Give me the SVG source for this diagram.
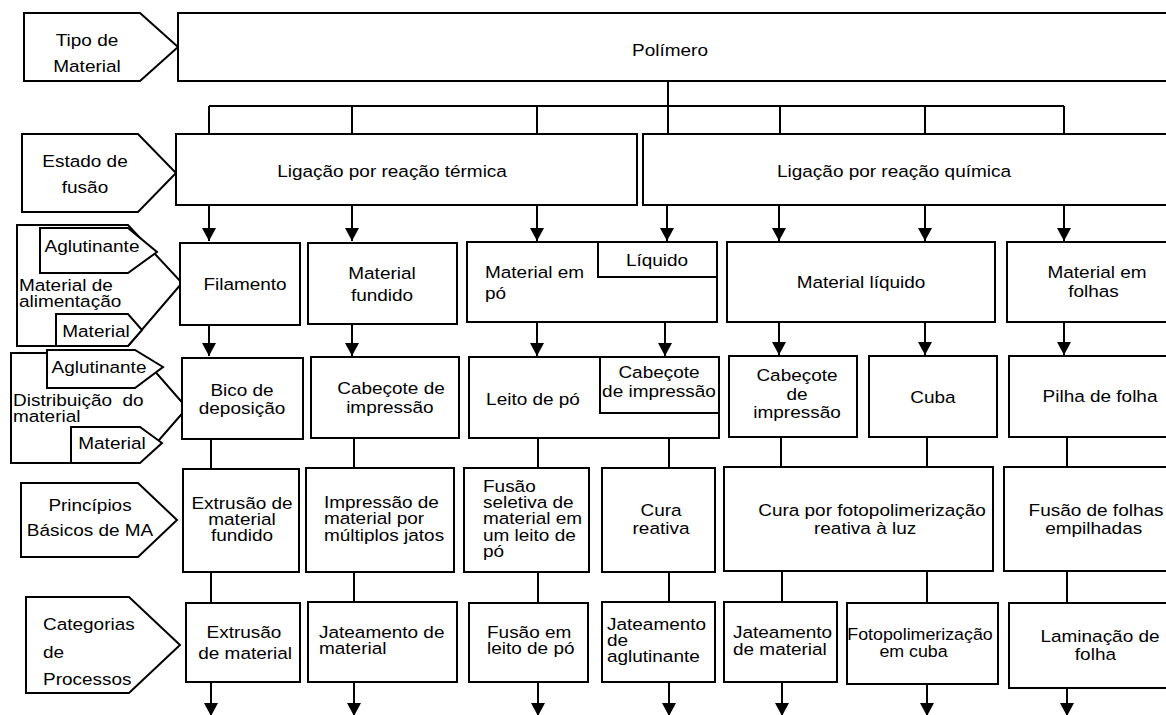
<svg xmlns="http://www.w3.org/2000/svg" width="1166" height="715" viewBox="0 0 1166 715">
<style>
.b{fill:#fff;stroke:#000;stroke-width:2}
.c{fill:none;stroke:#000;stroke-width:2}
.t{font-family:"Liberation Sans",Arial,sans-serif;font-size:16.5px;fill:#000}
.m{text-anchor:middle}
</style>
<defs>
<marker id="ah" markerUnits="userSpaceOnUse" markerWidth="14" markerHeight="14" refX="13" refY="7" orient="auto">
<path d="M0,0 L13,7 L0,14 z" fill="#000"/>
</marker>
</defs>
<rect width="1166" height="715" fill="#fff"/>

<g id="connectors">
<path class="c" d="M668,81 V106 M209,106 H1064 M209,106 V134 M352,106 V134 M537,106 V134 M668,106 V134 M780,106 V134 M925,106 V134 M1064,106 V134"/>
<g marker-end="url(#ah)">
<path class="c" d="M209,205 V241"/><path class="c" d="M352,205 V241"/><path class="c" d="M537,205 V241"/><path class="c" d="M667,205 V241"/><path class="c" d="M779,205 V241"/><path class="c" d="M925,205 V241"/><path class="c" d="M1064,205 V241"/>
<path class="c" d="M209,325 V356"/><path class="c" d="M352,324 V356"/><path class="c" d="M537,322 V356"/><path class="c" d="M665,322 V356"/><path class="c" d="M779,322 V355"/><path class="c" d="M925,322 V355"/><path class="c" d="M1064,322 V355"/>
<path class="c" d="M211,682 V716"/><path class="c" d="M354,682 V716"/><path class="c" d="M538,682 V716"/><path class="c" d="M669,682 V716"/><path class="c" d="M782,682 V716"/><path class="c" d="M927,684 V716"/><path class="c" d="M1067,688 V716"/>
</g>
<path class="c" d="M211,439 V469 M354,438 V468 M538,438 V468 M669,438 V468 M781,437 V467 M927,437 V467 M1067,437 V467"/>
<path class="c" d="M211,572 V603 M354,572 V602 M538,572 V603 M669,572 V602 M782,571 V602 M927,571 V603 M1067,571 V603"/>
</g>

<g id="lbl-tipo">
<polygon class="b" points="24,13 140,13 178,47 140,81 24,81"/>
<text class="t m" transform="matrix(1.15 0 0 1 87 0)"><tspan x="0" y="46">Tipo de</tspan><tspan x="0" y="72">Material</tspan></text>
</g>
<g id="polimero">
<rect class="b" x="178" y="13" width="1000" height="68"/>
<text class="t m" transform="matrix(1.15 0 0 1 670 56)">Polímero</text>
</g>

<g id="lbl-estado">
<polygon class="b" points="22,134 138,134 176,173 138,212 22,212"/>
<text class="t m" transform="matrix(1.15 0 0 1 85 0)"><tspan x="0" y="167">Estado de</tspan><tspan x="0" y="193">fusão</tspan></text>
</g>
<g id="termica">
<rect class="b" x="176" y="134" width="461" height="71"/>
<text class="t m" transform="matrix(1.15 0 0 1 392 177)">Ligação por reação térmica</text>
</g>
<g id="quimica">
<rect class="b" x="643" y="134" width="540" height="71"/>
<text class="t m" transform="matrix(1.15 0 0 1 894 177)">Ligação por reação química</text>
</g>

<g id="lbl-alimentacao">
<polygon class="b" points="17,225 128,225 182,283 128,346 17,346"/>
<polygon class="b" points="40,228 128,228 157,252 128,273 40,273"/>
<polygon class="b" points="56,314 128,314 142,330 128,346 56,346"/>
<text class="t m" transform="matrix(1.15 0 0 1 92 252)">Aglutinante</text>
<text class="t" transform="matrix(1.15 0 0 1 19 0)"><tspan x="0" y="291">Material de</tspan><tspan x="0" y="307">alimentação</tspan></text>
<text class="t m" transform="matrix(1.15 0 0 1 96 337)">Material</text>
</g>
<g id="filamento">
<rect class="b" x="180" y="243" width="120" height="82"/>
<text class="t m" transform="matrix(1.15 0 0 1 245 290)">Filamento</text>
</g>
<g id="mat-fundido">
<rect class="b" x="308" y="243" width="149" height="81"/>
<text class="t m" transform="matrix(1.15 0 0 1 382 0)"><tspan x="0" y="279">Material</tspan><tspan x="0" y="301">fundido</tspan></text>
</g>
<g id="mat-po">
<rect class="b" x="467" y="242" width="250" height="80"/>
<rect class="b" x="598" y="242" width="119" height="35"/>
<text class="t" transform="matrix(1.15 0 0 1 485 0)"><tspan x="0" y="278">Material em</tspan><tspan x="0" y="299">pó</tspan></text>
<text class="t m" transform="matrix(1.15 0 0 1 657 266)">Líquido</text>
</g>
<g id="mat-liquido">
<rect class="b" x="727" y="242" width="268" height="80"/>
<text class="t m" transform="matrix(1.15 0 0 1 861 288)">Material líquido</text>
</g>
<g id="mat-folhas">
<rect class="b" x="1007" y="242" width="180" height="80"/>
<text class="t m" transform="matrix(1.15 0 0 1 1097 0)"><tspan x="0" y="278">Material em</tspan><tspan x="-3" y="297">folhas</tspan></text>
</g>

<g id="lbl-distribuicao">
<polygon class="b" points="11,353 139,353 187,408 139,463 11,463"/>
<polygon class="b" points="47,350 135,350 163,367 135,388 47,388"/>
<polygon class="b" points="71,427 140,427 162,443 140,463 71,463"/>
<text class="t m" transform="matrix(1.15 0 0 1 99 373)">Aglutinante</text>
<text class="t" xml:space="preserve" transform="matrix(1.15 0 0 1 13 0)"><tspan x="0" y="406">Distribuição  do</tspan><tspan x="0" y="422">material</tspan></text>
<text class="t m" transform="matrix(1.15 0 0 1 112 449)">Material</text>
</g>
<g id="bico">
<rect class="b" x="182" y="358" width="121" height="81"/>
<text class="t m" transform="matrix(1.15 0 0 1 242 0)"><tspan x="0" y="396">Bico de</tspan><tspan x="0" y="414">deposição</tspan></text>
</g>
<g id="cabecote1">
<rect class="b" x="311" y="357" width="148" height="81"/>
<text class="t m" transform="matrix(1.15 0 0 1 391 0)"><tspan x="0" y="394">Cabeçote de</tspan><tspan x="-1" y="413">impressão</tspan></text>
</g>
<g id="leito">
<rect class="b" x="469" y="357" width="250" height="81"/>
<rect class="b" x="600" y="357" width="119" height="56"/>
<text class="t m" transform="matrix(1.15 0 0 1 533 405)">Leito de pó</text>
<text class="t m" transform="matrix(1.15 0 0 1 659 0)"><tspan x="0" y="378">Cabeçote</tspan><tspan x="0" y="397">de impressão</tspan></text>
</g>
<g id="cabecote2">
<rect class="b" x="729" y="356" width="128" height="81"/>
<text class="t m" transform="matrix(1.15 0 0 1 797 0)"><tspan x="0" y="381">Cabeçote</tspan><tspan x="0" y="400">de</tspan><tspan x="0" y="418">impressão</tspan></text>
</g>
<g id="cuba">
<rect class="b" x="869" y="356" width="128" height="81"/>
<text class="t m" transform="matrix(1.15 0 0 1 933 403)">Cuba</text>
</g>
<g id="pilha">
<rect class="b" x="1009" y="356" width="180" height="81"/>
<text class="t m" transform="matrix(1.15 0 0 1 1100 402)">Pilha de folha</text>
</g>

<g id="lbl-principios">
<polygon class="b" points="21,483 138,483 177,520 138,557 21,557"/>
<text class="t m" transform="matrix(1.15 0 0 1 90 0)"><tspan x="0" y="511">Princípios</tspan><tspan x="0" y="536">Básicos de MA</tspan></text>
</g>
<g id="p-extrusao">
<rect class="b" x="183" y="469" width="116" height="103"/>
<text class="t m" transform="matrix(1.15 0 0 1 242 0)"><tspan x="0" y="509">Extrusão de</tspan><tspan x="0" y="525">material</tspan><tspan x="0" y="541">fundido</tspan></text>
</g>
<g id="p-impressao">
<rect class="b" x="306" y="468" width="148" height="104"/>
<text class="t" transform="matrix(1.15 0 0 1 324 0)"><tspan x="0" y="508">Impressão de</tspan><tspan x="0" y="524">material por</tspan><tspan x="0" y="541">múltiplos jatos</tspan></text>
</g>
<g id="p-fusao">
<rect class="b" x="464" y="468" width="125" height="104"/>
<text class="t" transform="matrix(1.15 0 0 1 483 0)"><tspan x="0" y="492">Fusão</tspan><tspan x="0" y="508">seletiva de</tspan><tspan x="0" y="524">material em</tspan><tspan x="0" y="541">um leito de</tspan><tspan x="0" y="557">pó</tspan></text>
</g>
<g id="p-cura">
<rect class="b" x="602" y="468" width="113" height="104"/>
<text class="t m" transform="matrix(1.15 0 0 1 661 0)"><tspan x="0" y="516">Cura</tspan><tspan x="0" y="534">reativa</tspan></text>
</g>
<g id="p-foto">
<rect class="b" x="724" y="467" width="269" height="104"/>
<text class="t m" transform="matrix(1.15 0 0 1 872 0)"><tspan x="0" y="516">Cura por fotopolimerização</tspan><tspan x="-6" y="534">reativa à luz</tspan></text>
</g>
<g id="p-folhas">
<rect class="b" x="1004" y="467" width="185" height="104"/>
<text class="t m" transform="matrix(1.15 0 0 1 1096 0)"><tspan x="0" y="516">Fusão de folhas</tspan><tspan x="-2" y="534">empilhadas</tspan></text>
</g>

<g id="lbl-categorias">
<polygon class="b" points="26,597 129,597 180,645 129,693 26,693"/>
<text class="t" transform="matrix(1.15 0 0 1 43 0)"><tspan x="0" y="630">Categorias</tspan><tspan x="0" y="658">de</tspan><tspan x="0" y="685">Processos</tspan></text>
</g>
<g id="c-extrusao">
<rect class="b" x="186" y="603" width="114" height="79"/>
<text class="t m" transform="matrix(1.15 0 0 1 244 0)"><tspan x="0" y="638">Extrusão</tspan><tspan x="1" y="659">de material</tspan></text>
</g>
<g id="c-jateamento1">
<rect class="b" x="308" y="602" width="149" height="80"/>
<text class="t" transform="matrix(1.15 0 0 1 319 0)"><tspan x="0" y="638">Jateamento de</tspan><tspan x="0" y="654">material</tspan></text>
</g>
<g id="c-fusao">
<rect class="b" x="469" y="603" width="119" height="79"/>
<text class="t" transform="matrix(1.15 0 0 1 487 0)"><tspan x="0" y="638">Fusão em</tspan><tspan x="0" y="654">leito de pó</tspan></text>
</g>
<g id="c-aglutinante">
<rect class="b" x="602" y="602" width="113" height="80"/>
<text class="t" transform="matrix(1.15 0 0 1 607 0)"><tspan x="0" y="630">Jateamento</tspan><tspan x="0" y="646">de</tspan><tspan x="0" y="662">aglutinante</tspan></text>
</g>
<g id="c-jateamento2">
<rect class="b" x="724" y="602" width="113" height="80"/>
<text class="t" transform="matrix(1.15 0 0 1 733 0)"><tspan x="0" y="638">Jateamento</tspan><tspan x="0" y="655">de material</tspan></text>
</g>
<g id="c-cuba">
<rect class="b" x="847" y="603" width="151" height="81"/>
<text class="t m" transform="matrix(1.08 0 0 1 920 0)"><tspan x="0" y="640">Fotopolimerização</tspan><tspan x="-6" y="657">em cuba</tspan></text>
</g>
<g id="c-laminacao">
<rect class="b" x="1009" y="603" width="180" height="85"/>
<text class="t m" transform="matrix(1.15 0 0 1 1100 0)"><tspan x="0" y="642">Laminação de</tspan><tspan x="-4" y="660">folha</tspan></text>
</g>
</svg>
